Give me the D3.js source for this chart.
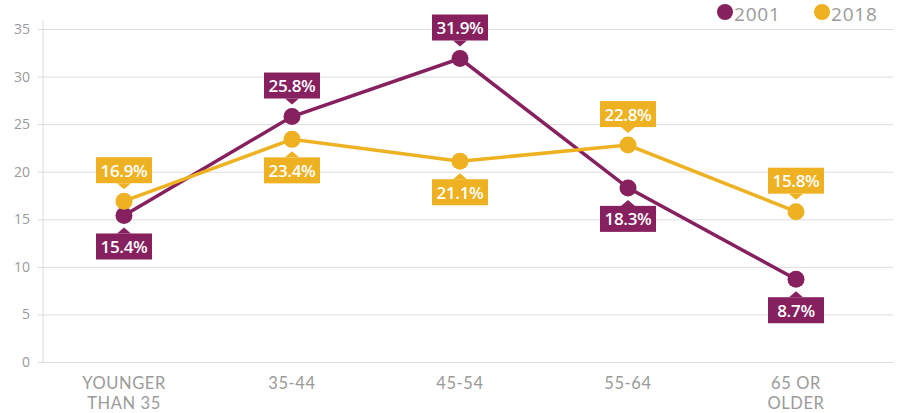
<!DOCTYPE html>
<html><head><meta charset="utf-8">
<script src="https://cdn.jsdelivr.net/npm/d3@7"></script>
<style>body{margin:0;background:#fff}svg{display:block}</style>
</head><body>
<script>
const categories = ["YOUNGER|THAN 35", "35-44", "45-54", "55-64", "65 OR|OLDER"];
const values2001 = [15.4, 25.8, 31.9, 18.3, 8.7];
const values2018 = [16.9, 23.4, 21.1, 22.8, 15.8];
const yTicks = [0, 5, 10, 15, 20, 25, 30, 35];
const seriesNames = ["2001", "2018"];

const W = 902, H = 413;
const purple = "#86205f", gold = "#eeb122";
const svg = d3.select("body").append("svg").attr("width", W).attr("height", H);

const x = d3.scalePoint().domain(categories).range([124, 796]);
const y = d3.scaleLinear().domain([0, 35]).range([362, 29]);

// gridlines
const yAxis = d3.axisLeft(y).tickValues(yTicks).tickSize(-(893 - 43)).tickPadding(13);
const gy = svg.append("g").attr("transform", "translate(43,0)").call(yAxis);
gy.select(".domain").remove();
gy.selectAll(".tick line").attr("stroke", "#dcdcdc").attr("x1", -5);
gy.selectAll(".tick text").attr("fill", "#9a9a9a").style("font", "14px 'Open Sans'");
svg.append("line").attr("x1", 43).attr("x2", 43).attr("y1", 20).attr("y2", y(0)).attr("stroke", "#dcdcdc");

// x axis labels
const gx = svg.append("g");
categories.forEach(c => {
  c.split("|").forEach((line, i) => {
    gx.append("text").attr("x", x(c)).attr("y", 389 + i * 20).attr("text-anchor", "middle")
      .attr("fill", "#9a9a9a").style("font", "16.5px Lato").style("letter-spacing", "0.6px")
      .text(line);
  });
});

const series = [
  {name: seriesNames[0], values: values2001, color: purple},
  {name: seriesNames[1], values: values2018, color: gold}
];

const line = d3.line().x((d, i) => x(categories[i])).y(d => y(d));
series.forEach(s => {
  svg.append("path").datum(s.values).attr("d", line).attr("fill", "none")
    .attr("stroke", s.color).attr("stroke-width", 3.5);
});
series.forEach(s => {
  svg.selectAll(null).data(s.values).enter().append("circle")
    .attr("cx", (d, i) => x(categories[i])).attr("cy", d => y(d)).attr("r", 8.5).attr("fill", s.color);
});

// labels
series.forEach((s, si) => {
  const other = series[1 - si];
  s.values.forEach((v, i) => {
    const above = v >= other.values[i];
    const cx = x(categories[i]), cy = y(v);
    const bw = 56, bh = 26, off = 18, tri = 6;
    const g = svg.append("g");
    const by = above ? cy - off - bh : cy + off;
    g.append("rect").attr("x", cx - bw / 2).attr("y", by).attr("width", bw).attr("height", bh).attr("fill", s.color);
    const edge = above ? cy - off : cy + off;
    const tip = above ? edge + tri : edge - tri;
    g.append("path").attr("d", `M${cx - 7},${edge}L${cx + 7},${edge}L${cx},${tip}Z`).attr("fill", s.color);
    g.append("text").attr("x", cx).attr("y", by + bh / 2 + 6.5).attr("text-anchor", "middle")
      .attr("fill", "#fff").style("font", "600 17px 'Open Sans'").style("letter-spacing", "-0.3px")
      .text(v.toFixed(1) + "%");
  });
});

// legend
const lg = svg.append("g");
[[725, purple, seriesNames[0]], [822, gold, seriesNames[1]]].forEach(([lx, col, name]) => {
  lg.append("circle").attr("cx", lx).attr("cy", 12).attr("r", 8).attr("fill", col);
  lg.append("text").attr("x", lx + 9).attr("y", 21).attr("fill", "#9a9a9a")
    .style("font", "500 19px 'Open Sans'").style("letter-spacing", "0.8px").text(name);
});
</script>
</body></html>
